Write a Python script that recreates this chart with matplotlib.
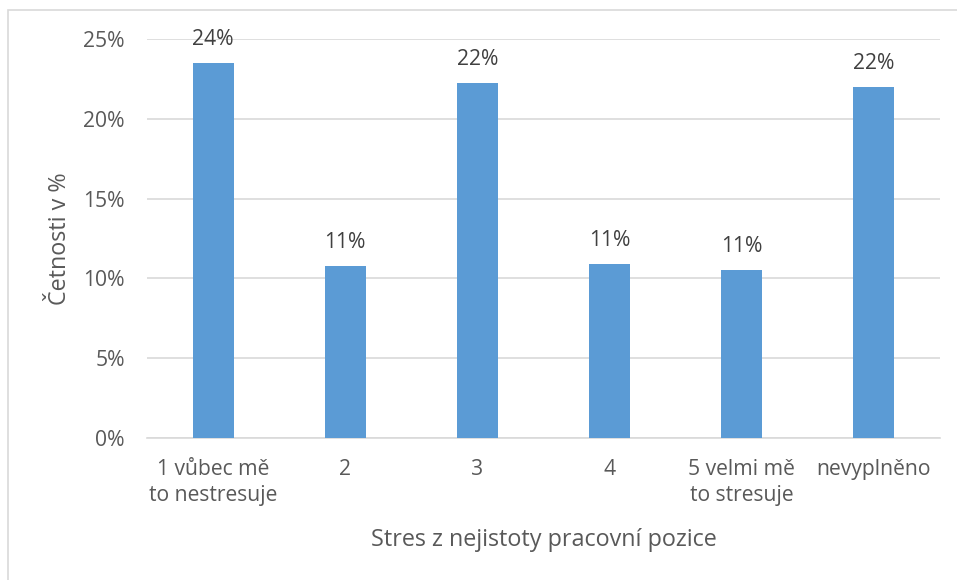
import matplotlib.pyplot as plt
from matplotlib.patches import Rectangle
from matplotlib.ticker import FuncFormatter
import math

kategorie = ['1 vůbec mě\nto nestresuje', '2', '3', '4', '5 velmi mě\nto stresuje', 'nevyplněno']
hodnoty = [23.5, 10.78, 22.24, 10.9, 10.52, 21.97]
yticks = [0, 5, 10, 15, 20, 25]

plt.rcParams['font.family'] = ['Open Sans', 'DejaVu Sans']
seda = '#595959'

fig = plt.figure(figsize=(9.57, 5.8), dpi=100)
# ramecek grafu
fig.patches.append(Rectangle((8 / 957, -0.1), 1.2, 1.1 - 10 / 580,
                             transform=fig.transFigure, fill=False,
                             edgecolor='#D9D9D9', linewidth=1.2))

ax = fig.add_axes([147 / 957, 142 / 580, (940 - 147) / 957, (438 - 39) / 580])
x = range(len(kategorie))
ax.bar(x, hodnoty, width=0.31, color='#5B9BD5', zorder=3)

for i, v in enumerate(hodnoty):
    ax.annotate(f'{math.floor(v + 0.5):d}%', (i, v), xytext=(0, 9.5),
                textcoords='offset points', ha='center', va='bottom',
                fontsize=15.2, color='#404040')

ax.set_xlim(-0.5, len(kategorie) - 0.5)
ax.set_ylim(0, 25)
ax.set_yticks(yticks)
ax.yaxis.set_major_formatter(FuncFormatter(lambda v, p: f'{v:.0f}%'))
ax.set_xticks(list(x))
ax.set_xticklabels(kategorie, linespacing=1.3)
ax.tick_params(axis='both', length=0, labelsize=15.2, colors=seda)
ax.tick_params(axis='x', pad=15)
ax.tick_params(axis='y', pad=16)
ax.grid(axis='y', color='#D9D9D9', linewidth=1.2, zorder=0)
for s in ['top', 'right', 'left']:
    ax.spines[s].set_visible(False)
ax.spines['bottom'].set_color('#D9D9D9')
ax.spines['bottom'].set_linewidth(1.2)

ax.set_ylabel('Četnosti v %', fontsize=16.8, color=seda, labelpad=8)
ax.set_xlabel('Stres z nejistoty pracovní pozice', fontsize=16.8, color=seda, labelpad=16)

fig.savefig('out.png', dpi=100)
